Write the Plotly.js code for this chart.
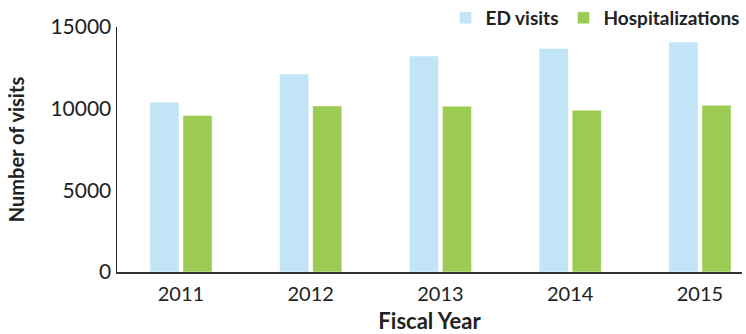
<!DOCTYPE html>
<html>
<head>
<meta charset="utf-8">
<script src="https://cdn.plot.ly/plotly-3.0.1.min.js"></script>
<style>html,body{margin:0;padding:0;background:#fff;}#chart{width:746px;height:334px;}</style>
</head>
<body>
<div id="chart"></div>
<script>
var years = ["2011", "2012", "2013", "2014", "2015"];
var edVisits = [10400, 12120, 13220, 13690, 14080];
var hospitalizations = [9580, 10170, 10150, 9910, 10210];
var seriesNames = ["ED visits", "Hospitalizations"];

var FONT = "Lato, 'Open Sans', sans-serif";
var data = [
  {type: "bar", name: seriesNames[0], x: years, y: edVisits,
   marker: {color: "#C2E4F7", line: {color: "#ffffff", width: 0.5}}},
  {type: "bar", name: seriesNames[1], x: years, y: hospitalizations,
   marker: {color: "#9BCB53", line: {color: "#ffffff", width: 0.5}}}
];
var layout = {
  width: 746, height: 334,
  margin: {l: 117, r: 4, t: 27, b: 62, pad: 0, autoexpand: false},
  paper_bgcolor: "#fff", plot_bgcolor: "#fff",
  barmode: "group", bargap: 0.49, bargroupgap: 0.12,
  font: {family: FONT, color: "#222"},
  showlegend: true,
  legend: {orientation: "h", xref: "container", yref: "container", x: 0.998, xanchor: "right",
           y: 1 - 18 / 334, yanchor: "middle",
           font: {family: FONT, size: 19, color: "#222", weight: "bold"},
           tracegroupgap: 0, bgcolor: "rgba(0,0,0,0)"},
  xaxis: {type: "category", range: [-0.493, 4.324], showline: true, linecolor: "#333", linewidth: 1.5,
          ticks: "", showgrid: false, zeroline: false, automargin: false, ticklabelstandoff: 3,
          tickfont: {family: FONT, size: 20, color: "#222"},
          title: {text: "Fiscal Year", font: {family: FONT, size: 22, color: "#222", weight: "bold"}, standoff: 12}},
  yaxis: {range: [0, 15000], tickvals: [0, 5000, 10000, 15000], ticktext: ["0", "5000", "10000", "15000"],
          showline: true, linecolor: "#222", linewidth: 1.5, ticks: "", showgrid: false, zeroline: false,
          automargin: false,
          tickfont: {family: FONT, size: 21, color: "#222"},
          title: {text: "Number of visits", font: {family: FONT, size: 20, color: "#222", weight: "bold"}, standoff: 20}}
};
Plotly.newPlot("chart", data, layout, {displayModeBar: false, staticPlot: true});
</script>
</body>
</html>
